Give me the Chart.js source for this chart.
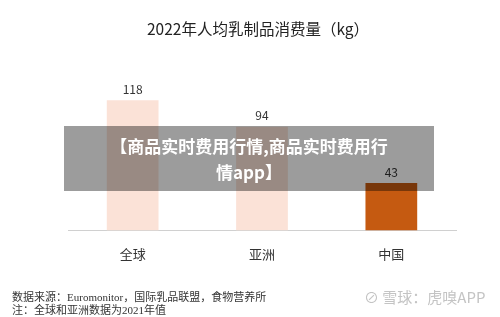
<!DOCTYPE html>
<html>
<head>
<meta charset="utf-8">
<script src="https://cdn.jsdelivr.net/npm/chart.js@4"></script>
<style>
  body { margin: 0; background: #fff; }
  #wrap { position: relative; width: 500px; height: 317px; overflow: hidden; font-family: "Noto Sans CJK SC", sans-serif; }
  #title { position: absolute; left: 0; width: 516px; top: 17px; text-align: center; font-size: 15.5px; color: #222; }
  #overlay { position: absolute; left: 64px; top: 126px; width: 370px; height: 65px; background: rgba(0,0,0,0.39);
    color: #fff; font-weight: bold; font-size: 17px; line-height: 26px; text-align: center; padding-top: 7px; box-sizing: border-box; }
  #src { position: absolute; left: 12px; top: 291px; font-family: "Liberation Serif", "Noto Sans CJK SC", serif; font-size: 11px; line-height: 13px; color: #333; }
  #mark { position: absolute; left: 364px; top: 286px; font-size: 15px; color: #c4c4c4; }
</style>
</head>
<body>
<div id="wrap">
  <canvas id="chart1" width="500" height="317"></canvas>
  <div id="title">2022年人均乳制品消费量（kg）</div>
  <div id="overlay">【商品实时费用行情,商品实时费用行<br>情app】</div>
  <div id="src">数据来源：Euromonitor，国际乳品联盟，食物营养所<br>注：全球和亚洲数据为2021年值</div>
  <div id="mark">⊘ 雪球：虎嗅APP</div>
</div>
<script>
const regiones = ["全球", "亚洲", "中国"];
const consumo = [118, 94, 43];
const colores = ["#fbe2d7", "#fbe2d7", "#c55a11"];

const etiquetasValor = {
  id: "etiquetasValor",
  afterDatasetsDraw(chart) {
    const ctx = chart.ctx;
    const meta = chart.getDatasetMeta(0);
    ctx.save();
    ctx.fillStyle = "#333";
    ctx.font = "12px 'Noto Sans CJK SC', sans-serif";
    ctx.textAlign = "center";
    ctx.textBaseline = "bottom";
    meta.data.forEach((bar, i) => {
      ctx.fillText(consumo[i], bar.x, bar.y - 5);
    });
    ctx.restore();
  }
};

function renderChart() {
  const ctx = document.querySelector("#chart1").getContext("2d");
  const chart = new Chart(ctx, {
    type: "bar",
    data: {
      labels: regiones,
      datasets: [
        {
          label: "人均乳制品消费量",
          data: consumo,
          backgroundColor: colores,
          categoryPercentage: 1,
          barPercentage: 0.4,
        },
      ],
    },
    options: {
      responsive: false,
      animation: false,
      layout: { padding: { left: 68, right: 44, top: 65, bottom: 47 } },
      scales: {
        x: {
          grid: { display: false },
          border: { color: "#d0d0d0" },
          ticks: { color: "#333", padding: 8, font: { size: 13, family: "Noto Sans CJK SC" } },
        },
        y: { display: false, min: 0, max: 150 },
      },
      plugins: {
        legend: { display: false },
        tooltip: { enabled: false },
      },
    },
    plugins: [etiquetasValor],
  });
}
renderChart();
</script>
</body>
</html>
